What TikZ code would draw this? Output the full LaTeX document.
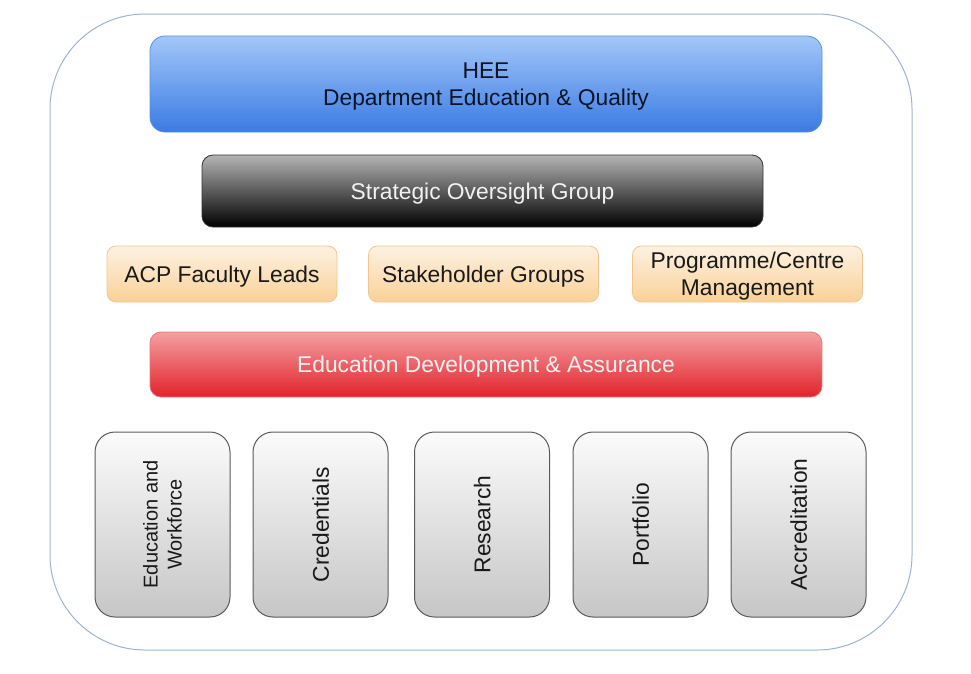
\documentclass[tikz,border=0pt]{standalone}
\usepackage{fontspec}
\setmainfont{Liberation Sans}
\definecolor{outerc}{HTML}{9DB3CF}
\definecolor{bluetop}{HTML}{A3C7F8}
\definecolor{bluebot}{HTML}{3A7BE4}
\definecolor{blueline}{HTML}{5A8FD8}
\definecolor{greytop}{HTML}{B4B4B4}
\definecolor{orangetop}{HTML}{FDF1E2}
\definecolor{orangebot}{HTML}{FAD197}
\definecolor{orangeline}{HTML}{F3C58E}
\definecolor{redtop}{HTML}{F4A0A2}
\definecolor{redbot}{HTML}{E2222B}
\definecolor{redline}{HTML}{E8787C}
\definecolor{paletop}{HTML}{FBFBFB}
\definecolor{palebot}{HTML}{C6C6C6}
\definecolor{paleline}{HTML}{5A5A5A}
\definecolor{navytext}{HTML}{0B1426}
\definecolor{lighttext}{HTML}{F2F2F2}
\tikzset{
  txt/.style={font=\fontsize{22.8}{27}\selectfont, align=center, inner sep=0pt, text depth=0pt},
  heebox/.style={txt, draw=blueline, line width=0.8pt, rounded corners=15pt,
    top color=bluetop, bottom color=bluebot, text=navytext,
    minimum width=672pt, minimum height=96pt},
  sogbox/.style={txt, draw=black!80, line width=0.8pt, rounded corners=11pt,
    top color=greytop, bottom color=black, text=lighttext,
    minimum width=561pt, minimum height=72pt},
  orbox/.style={txt, draw=orangeline, line width=0.8pt, rounded corners=9pt,
    top color=orangetop, bottom color=orangebot, text=black!90,
    minimum width=230pt, minimum height=56pt},
  redbox/.style={txt, draw=redline, line width=0.8pt, rounded corners=11pt,
    top color=redtop, bottom color=redbot, text=lighttext,
    minimum width=672pt, minimum height=65pt},
  colbox/.style={txt, draw=paleline, line width=1pt, rounded corners=20pt,
    rotate=90, top color=paletop, bottom color=palebot, text=black!90,
    minimum width=185pt, minimum height=135pt},
}
\begin{document}
\begin{tikzpicture}[x=1pt,y=-1pt]
\useasboundingbox (0,0) rectangle (971,673);
\draw[outerc, line width=1pt, rounded corners=95pt] (50,14) rectangle (912,650);
\node[heebox] (hee) at (486,84) {HEE\\Department Education \& Quality};
\node[sogbox] (sog) at (482.5,191) {Strategic Oversight Group};
\node[orbox] (acp) at (222,274) {ACP Faculty Leads};
\node[orbox] (stake) at (483.5,274) {Stakeholder Groups};
\node[orbox] (prog) at (747.5,274) {Programme/Centre\\Management};
\node[redbox] (eda) at (486,364.5) {Education Development \& Assurance};
\node[colbox, font=\fontsize{20}{24}\selectfont] (edw) at (162.5,524.5) {Education and\\Workforce};
\node[colbox] (cred) at (320.5,524.5) {Credentials};
\node[colbox] (res) at (482,524.5) {Research};
\node[colbox] (port) at (640.5,524.5) {Portfolio};
\node[colbox] (accr) at (798.5,524.5) {Accreditation};
\end{tikzpicture}
\end{document}
